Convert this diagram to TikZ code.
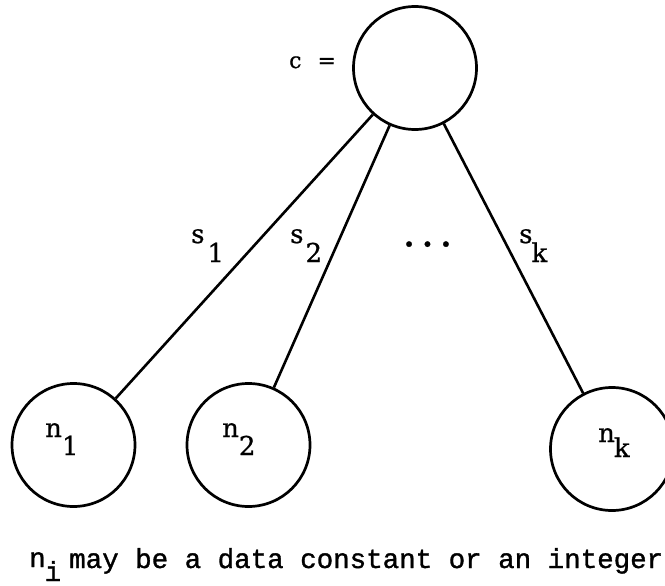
\documentclass[tikz,border=0pt]{standalone}
\usepackage{fontspec}
\setmainfont[FakeBold=0.8]{DejaVu Serif}
\newfontfamily\typew[FakeBold=1.2]{Liberation Mono}
\newcommand{\lowr}[2][18pt]{\raisebox{-#1}{#2}}
\begin{document}
\begin{tikzpicture}[x=1pt,y=-1pt,
  nd/.style={circle,draw,line width=2.7pt,minimum size=123pt,inner sep=0pt},
  edge/.style={line width=2.6pt},
  lbl/.style={inner sep=0pt,font=\fontsize{26}{26}\selectfont},
  txt/.style={inner sep=0pt,font=\typew\fontsize{27.5}{27.5}\selectfont}]
\useasboundingbox (0,0) rectangle (665,586);
% circles
\node[nd] (c)  at (415,68)  {};
\node[nd] (n1) at (73.5,445) {};
\node[nd] (n2) at (248.5,445) {};
\node[nd] (nk) at (612,449) {};
% connectors
\draw[edge] (c) -- (n1);
\draw[edge] (c) -- (n2);
\draw[edge] (c) -- (nk);
% labels
\node[lbl,anchor=base west,font=\fontsize{22}{22}\selectfont] (clbl) at (289,68) {c\hspace{16pt}=};
\node[lbl,anchor=base west] (s1) at (191,243) {s\hspace{3pt}\lowr[19pt]{1}};
\node[lbl,anchor=base west] (s2) at (290,243) {s\hspace{2pt}\lowr[19pt]{2}};
\node[lbl,anchor=base west] (sk) at (519,243) {s\hspace{-1pt}\lowr[19pt]{k}};
\node[inner sep=0pt,anchor=base,font=\fontsize{30}{30}\selectfont\bfseries] (dots) at (427.5,246.5) {.\hspace{8pt}.\hspace{8pt}.};
\node[lbl,anchor=base west] (l1) at (45,437) {n\hspace{0pt}\lowr{1}};
\node[lbl,anchor=base west] (l2) at (222,437) {n\hspace{0pt}\lowr{2}};
\node[lbl,anchor=base west] (lk) at (598,442) {n\hspace{-1pt}\lowr[15pt]{k}};
% caption
\node[txt,anchor=base west] (ni) at (29,567) {n\hspace{-1pt}\lowr[14pt]{i}};
\node[txt,anchor=base west] (cap) at (69,568) {may be a data constant or an integer};
\end{tikzpicture}
\end{document}
